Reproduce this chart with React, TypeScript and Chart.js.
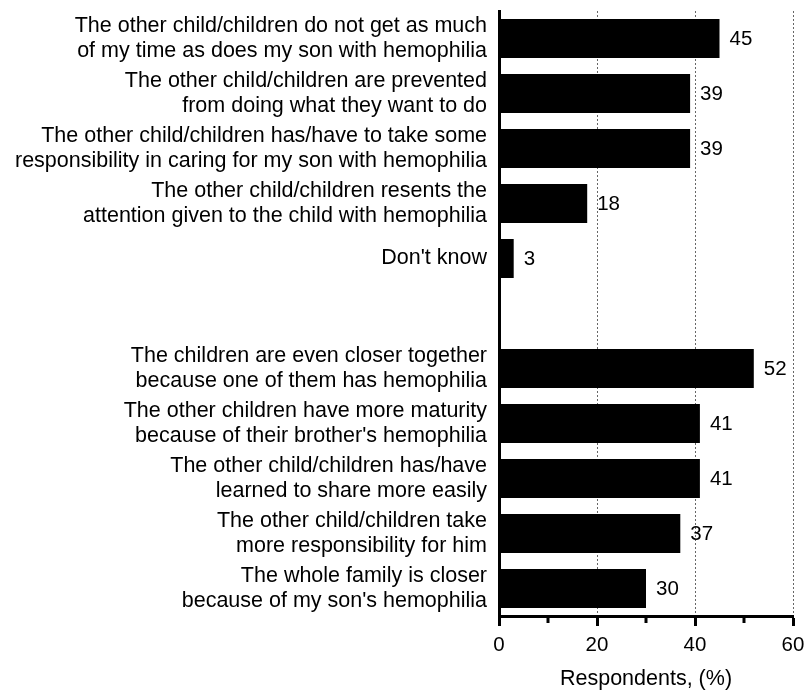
import React, { useEffect, useRef } from 'react';
import { Chart, registerables } from 'chart.js';

Chart.register(...registerables);

const categories: string[][] = [
  ['The other child/children do not get as much', 'of my time as does my son with hemophilia'],
  ['The other child/children are prevented', 'from doing what they want to do'],
  ['The other child/children has/have to take some', 'responsibility in caring for my son with hemophilia'],
  ['The other child/children resents the', 'attention given to the child with hemophilia'],
  ["Don't know"],
  [''],
  ['The children are even closer together', 'because one of them has hemophilia'],
  ['The other children have more maturity', "because of their brother's hemophilia"],
  ['The other child/children has/have', 'learned to share more easily'],
  ['The other child/children take', 'more responsibility for him'],
  ['The whole family is closer', "because of my son's hemophilia"],
];

const respondents: (number | null)[] = [45, 39, 39, 18, 3, null, 52, 41, 41, 37, 30];

const xMin = 0;
const xMax = 60;
const xStep = 20;
const xTitle = 'Respondents, (%)';

const FONT = '"Liberation Sans", Arial, Helvetica, sans-serif';

const valueLabels = {
  id: 'valueLabels',
  afterDatasetsDraw(chart: any) {
    const ctx = chart.ctx;
    const meta = chart.getDatasetMeta(0);
    const data = chart.data.datasets[0].data;
    ctx.save();
    ctx.font = `20.5px ${FONT}`;
    ctx.fillStyle = '#000';
    ctx.textAlign = 'left';
    ctx.textBaseline = 'middle';
    meta.data.forEach((bar: any, i: number) => {
      const v = data[i];
      if (v == null) return;
      ctx.fillText(String(v), bar.x + 10, bar.y + 1);
    });
    ctx.restore();
  },
};

const minorTicks = {
  id: 'minorTicks',
  afterDraw(chart: any) {
    const sx = chart.scales.x;
    const ticks = sx.ticks;
    const ctx = chart.ctx;
    const y0 = chart.chartArea.bottom;
    ctx.save();
    ctx.strokeStyle = '#000';
    ctx.lineWidth = 3;
    for (let i = 0; i < ticks.length - 1; i++) {
      const v = (ticks[i].value + ticks[i + 1].value) / 2;
      const x = sx.getPixelForValue(v);
      ctx.beginPath();
      ctx.moveTo(x, y0);
      ctx.lineTo(x, y0 + 7);
      ctx.stroke();
    }
    ctx.restore();
  },
};

export default function App() {
  const ref = useRef<HTMLCanvasElement | null>(null);

  useEffect(() => {
    if (!ref.current) return;
    const chart = new Chart(ref.current, {
      type: 'bar',
      data: {
        labels: categories,
        datasets: [
          {
            data: respondents as any,
            backgroundColor: '#000',
            borderWidth: 0,
            barPercentage: 0.71,
            categoryPercentage: 1,
          },
        ],
      },
      options: {
        indexAxis: 'y',
        responsive: false,
        animation: false,
        devicePixelRatio: 1,
        layout: { padding: { top: 11, right: 13, bottom: 0, left: 0 } },
        plugins: {
          legend: { display: false },
          tooltip: { enabled: false },
        },
        scales: {
          x: {
            type: 'linear',
            min: xMin,
            max: xMax,
            afterFit: (s: any) => {
              s.height = 78;
              s.paddingLeft = 0;
              s.paddingRight = 0;
            },
            ticks: {
              stepSize: xStep,
              color: '#000',
              font: { family: FONT, size: 20.5 },
              padding: 7,
            },
            grid: {
              color: (c: any) => (c.tick && c.tick.value === xMin ? 'rgba(0,0,0,0)' : '#666'),
              lineWidth: 1,
              drawTicks: true,
              tickLength: 10,
              tickWidth: 3,
              tickColor: '#000',
            },
            border: { display: true, color: '#000', width: 3, dash: [2, 2] },
            title: {
              display: true,
              text: xTitle,
              color: '#000',
              font: { family: FONT, size: 21.5 },
              padding: { top: 12, bottom: 2 },
            },
          },
          y: {
            type: 'category',
            afterFit: (s: any) => {
              s.width = 499;
              s.paddingTop = 0;
              s.paddingBottom = 0;
            },
            ticks: {
              color: '#000',
              font: { family: FONT, size: 21.5, lineHeight: 1.2 },
              padding: 12,
              autoSkip: false,
            },
            grid: { display: false, drawTicks: false },
            border: { display: true, color: '#000', width: 3 },
          },
        },
      },
      plugins: [valueLabels, minorTicks],
    });
    return () => chart.destroy();
  }, []);

  return (
    <div style={{ position: 'absolute', left: 0, top: 0, width: 806, height: 694, background: '#fff' }}>
      <canvas ref={ref} width={806} height={694} style={{ display: 'block' }} />
    </div>
  );
}
